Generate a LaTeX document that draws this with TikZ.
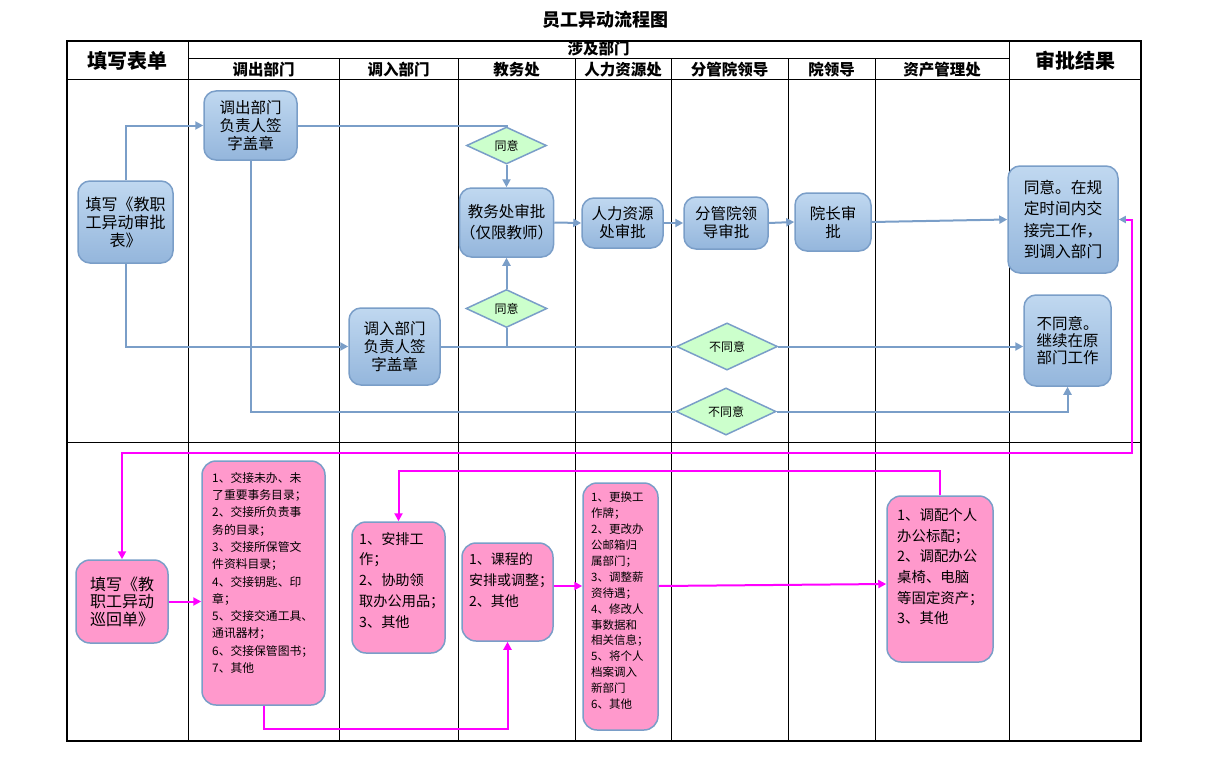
\documentclass[tikz,border=0pt]{standalone}
\usepackage{fontspec}
\setmainfont{Noto Sans CJK SC}
\usetikzlibrary{arrows.meta,shapes.geometric,calc}
\definecolor{lineblue}{RGB}{122,158,200}
\definecolor{nodetop}{RGB}{192,216,240}
\definecolor{nodebot}{RGB}{148,182,220}
\definecolor{diafill}{RGB}{204,255,204}
\definecolor{pinkfill}{RGB}{255,153,204}
\definecolor{mag}{RGB}{255,0,255}
\begin{document}
\begin{tikzpicture}[x=1pt,y=-1pt,
  grid/.style={line width=1pt, black},
  frame/.style={line width=2pt, black},
  bluebox/.style={draw=lineblue, line width=1.5pt, rounded corners=12pt, top color=nodetop, bottom color=nodebot, inner sep=0pt, align=center, font=\fontsize{15.5}{18}\selectfont},
  pinkbox/.style={draw=lineblue, line width=1.5pt, rounded corners=14pt, fill=pinkfill, inner sep=0pt, align=center},
  listtext/.style={anchor=north west, inner sep=0pt, align=left},
  decision/.style={diamond, draw=lineblue, line width=1.5pt, fill=diafill, inner sep=0pt, font=\fontsize{12}{14}\selectfont},
  bflow/.style={draw=lineblue, line width=2pt, -{Triangle[length=8pt,width=8pt]}},
  bline/.style={draw=lineblue, line width=2pt},
  mflow/.style={draw=mag, line width=2pt, -{Triangle[length=8pt,width=8pt]}},
  mline/.style={draw=mag, line width=2pt},
  hdr/.style={font=\bfseries\fontsize{15.5}{18}\selectfont, inner sep=0pt},
  bighdr/.style={font=\bfseries\fontsize{20}{24}\selectfont, inner sep=0pt},
]
\useasboundingbox (0,0) rectangle (1214,781);

% title
\node[font=\bfseries\fontsize{18}{22}\selectfont, inner sep=0pt] (title) at (605,20) {员工异动流程图};

% table
\draw[grid] (188,59) -- (1009,59);
\draw[grid] (67,80) -- (1141,80);
\draw[grid] (67,442) -- (1141,442);
\draw[grid] (188,41) -- (188,741);
\draw[grid] (1009,41) -- (1009,741);
\foreach \x in {339,458,575,671,788,875} \draw[grid] (\x,59) -- (\x,741);
\draw[frame] (67,41) rectangle (1141,741);

% headers
\node[bighdr] (hfill) at (127.5,61) {填写表单};
\node[bighdr] (happr) at (1075,61) {审批结果};
\node[hdr] (hdept) at (598.5,49) {涉及部门};
\node[hdr] (c1) at (263.5,70) {调出部门};
\node[hdr] (c2) at (398.5,70) {调入部门};
\node[hdr] (c3) at (516.5,70) {教务处};
\node[hdr] (c4) at (623,70) {人力资源处};
\node[hdr] (c5) at (729.5,70) {分管院领导};
\node[hdr] (c6) at (831.5,70) {院领导};
\node[hdr] (c7) at (942,70) {资产管理处};

% top section nodes
\node[bluebox, minimum width=95pt, minimum height=82pt, font=\fontsize{16}{18}\selectfont] (fill1) at (125.5,222) {填写《教职\\工异动审批\\表》};
\node[bluebox, minimum width=93pt, minimum height=69pt] (dc) at (250.5,125.5) {调出部门\\负责人签\\字盖章};
\node[decision, minimum width=80pt, minimum height=37pt] (d1) at (506.5,145.5) {同意};
\node[bluebox, minimum width=94pt, minimum height=69pt, font=\fontsize{15.5}{21}\selectfont] (jw) at (506.5,222.5) {教务处审批\\（仅限教师）};
\node[decision, minimum width=81pt, minimum height=38pt] (d2) at (506.5,308.5) {同意};
\node[bluebox, minimum width=91pt, minimum height=77pt] (dr) at (394.5,346.5) {调入部门\\负责人签\\字盖章};
\node[bluebox, minimum width=81pt, minimum height=50pt] (hr) at (622.5,223) {人力资源\\处审批};
\node[bluebox, minimum width=84pt, minimum height=52pt] (fg) at (726,223) {分管院领\\导审批};
\node[bluebox, minimum width=76pt, minimum height=58pt] (yz) at (833,222) {院长审\\批};
\node[bluebox, minimum width=110pt, minimum height=107pt, align=left, font=\fontsize{15.7}{21.3}\selectfont] (ok) at (1063,219.5) {同意。在规\\定时间内交\\接完工作，\\到调入部门};
\node[bluebox, minimum width=87pt, minimum height=91pt, align=left, font=\fontsize{15.5}{17}\selectfont] (no) at (1067.5,340.5) {不同意。\\继续在原\\部门工作};
\node[decision, minimum width=101pt, minimum height=40pt] (d3) at (727,346.5) {不同意};
\node[decision, minimum width=100pt, minimum height=41pt] (d4) at (726,411.5) {不同意};

% top connectors
\draw[bflow] (fill1.north) |- (dc.west);
\draw[bflow] (fill1.south) |- (dr.west);
\draw[bline] (dc.east) -| (d1.north);
\draw[bflow] (d1.south) -- (jw.north);
\draw[bline] (dr.east) -- (d3.west);
\coordinate (j2) at (d2.south |- dr.east);
\draw[bline] (j2) -- (d2.south);
\draw[bflow] (d2.north) -- (jw.south);
\draw[bflow] (d3.east) -- (no.west |- d3.east);
\draw[bline] (dc.south) |- (d4.west);
\draw[bflow] (d4.east) -| (no.south);
\draw[bflow] (jw.east) -- (hr.west);
\draw[bflow] (hr.east) -- (fg.west);
\draw[bflow] (fg.east) -- (yz.west);
\draw[bflow] (yz.east) -- (ok.west);

% bottom section nodes
\node[pinkbox, minimum width=92pt, minimum height=83pt, font=\fontsize{16}{17.5}\selectfont] (fill2) at (122,601.5) {填写《教\\职工异动\\巡回单》};
\node[pinkbox, minimum width=123pt, minimum height=244pt] (list1) at (263.5,583) {};
\node[listtext, font=\fontsize{11.8}{17.3}\selectfont] (list1t) at (212,472) {1、交接未办、未\\了重要事务目录；\\2、交接所负责事\\务的目录；\\3、交接所保管文\\件资料目录；\\4、交接钥匙、印\\章；\\5、交接交通工具、\\通讯器材；\\6、交接保管图书；\\7、其他};
\node[pinkbox, minimum width=93pt, minimum height=131pt] (pa) at (398.5,587.5) {};
\node[listtext, font=\fontsize{14.2}{20.8}\selectfont] (pat) at (359,532) {1、安排工\\作；\\2、协助领\\取办公用品；\\3、其他};
\node[pinkbox, minimum width=91pt, minimum height=98pt] (course) at (507.5,592) {};
\node[listtext, font=\fontsize{14}{21}\selectfont] (courset) at (469,552) {1、课程的\\安排或调整；\\2、其他};
\node[pinkbox, minimum width=75pt, minimum height=247pt] (hrlist) at (620.5,606.5) {};
\node[listtext, font=\fontsize{11.5}{15.9}\selectfont] (hrlistt) at (591,492) {1、更换工\\作牌；\\2、更改办\\公邮箱归\\属部门；\\3、调整薪\\资待遇；\\4、修改人\\事数据和\\相关信息；\\5、将个人\\档案调入\\新部门\\6、其他};
\node[pinkbox, minimum width=106pt, minimum height=166pt] (ast) at (940,579) {};
\node[listtext, font=\fontsize{14.4}{20.7}\selectfont] (astt) at (897,508) {1、调配个人\\办公标配；\\2、调配办公\\桌椅、电脑\\等固定资产；\\3、其他};

% magenta connectors
\coordinate (mrt) at (1132,453);
\draw[draw=mag, line width=2pt, {Triangle[length=7pt,width=7pt,color=lineblue]}-{Triangle[length=8pt,width=8pt]}] (ok.east) -| (mrt) -| (fill2.north);
\draw[mflow] (fill2.east) -- (list1.west |- fill2.east);
\coordinate (mb) at (507.5,729);
\draw[mflow] (list1.south) |- (mb) -- (course.south);
\coordinate (mt) at (940,471);
\draw[mflow] (ast.north) -- (mt) -| (pa.north);
\draw[mflow] ([yshift=6pt]course.east) -- ([yshift=6pt]course.east -| hrlist.west);
\draw[mflow] ([yshift=6pt]course.east -| hrlist.east) -- ([yshift=-5pt]ast.west);
\end{tikzpicture}
\end{document}
